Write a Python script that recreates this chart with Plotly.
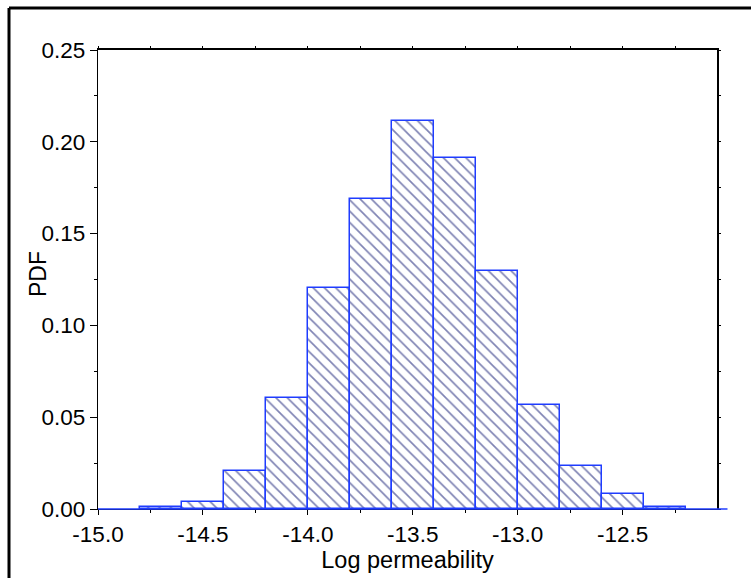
import plotly.graph_objects as go

# ---- data ----
bin_left = [-14.8, -14.6, -14.4, -14.2, -14.0, -13.8, -13.6, -13.4, -13.2, -13.0, -12.8, -12.6, -12.4]
bin_width = 0.2
pdf_vals = [0.001, 0.004, 0.0205, 0.0606, 0.1203, 0.169, 0.2116, 0.1914, 0.1295, 0.0568, 0.0234, 0.0082, 0.0012]

x_tickvals = [-15.0, -14.5, -14.0, -13.5, -13.0, -12.5]
x_ticktext = ["-15.0", "-14.5", "-14.0", "-13.5", "-13.0", "-12.5"]
y_tickvals = [0.0, 0.05, 0.10, 0.15, 0.20, 0.25]
y_ticktext = ["0.00", "0.05", "0.10", "0.15", "0.20", "0.25"]

x_range = [-15.0, -12.05]
y_range = [0.0, 0.25]

# ---- layout geometry (pixels) ----
W, H = 751, 578
ML, MR, MT, MB = 98, 34, 50, 69
PW, PH = W - ML - MR, H - MT - MB

def px_to_paper_x(px):
    return (px - ML) / PW

def px_to_paper_y(py):
    return (H - MB - py) / PH

centers = [l + bin_width / 2 for l in bin_left]

FONT = "Liberation Sans, Arial, sans-serif"
OUTLINE = "#1f3cff"
HATCH = "#000868"

fig = go.Figure()
fig.add_trace(go.Bar(
    x=centers, y=pdf_vals, width=[bin_width] * len(centers),
    marker=dict(
        color="white",
        line=dict(color=OUTLINE, width=1.5),
        pattern=dict(shape="\\", fgcolor=HATCH, bgcolor="white", size=8, solidity=0.21, fillmode="overlay"),
    ),
    showlegend=False, hoverinfo="skip",
))
# dummy trace for mirrored (top/right) axes
fig.add_trace(go.Scatter(x=[x_range[0]], y=[y_range[0]], xaxis="x2", yaxis="y2",
                         mode="markers", marker=dict(opacity=0), showlegend=False, hoverinfo="skip"))

minor_x = [v / 100 for v in range(-1500, -1200, 25)]
minor_y = [v / 1000 for v in range(0, 251, 25)]

fig.update_layout(
    width=W, height=H,
    margin=dict(l=ML, r=MR, t=MT, b=MB, pad=0),
    paper_bgcolor="white", plot_bgcolor="white",
    font=dict(family=FONT, size=22.5, color="black"),
    bargap=0,
    xaxis=dict(
        range=x_range, tickmode="array", tickvals=x_tickvals, ticktext=x_ticktext,
        ticks="outside", ticklen=5, tickwidth=1, tickcolor="black",
        minor=dict(tickmode="linear", tick0=-15.0, dtick=0.25, ticks="outside", ticklen=3, tickcolor="black"),
        showline=True, linecolor="black", linewidth=1.2, showgrid=False, zeroline=False,
        tickfont=dict(size=22.5),
        title=dict(text="Log permeability", font=dict(size=23.5), standoff=0),
    ),
    yaxis=dict(
        range=y_range, tickmode="array", tickvals=y_tickvals, ticktext=y_ticktext,
        ticks="outside", ticklen=7, tickwidth=1, tickcolor="black",
        minor=dict(tickmode="linear", tick0=0, dtick=0.025, ticks="outside", ticklen=3, tickcolor="black"),
        showline=True, linecolor="black", linewidth=1.2, showgrid=False, zeroline=False,
        tickfont=dict(size=22.5),
    ),
    xaxis2=dict(
        overlaying="x", side="top", range=x_range, tickmode="array", tickvals=minor_x,
        showticklabels=False, ticks="outside", ticklen=2, tickcolor="black",
        showline=True, linecolor="black", linewidth=2, showgrid=False, zeroline=False,
    ),
    yaxis2=dict(
        overlaying="y", side="right", range=y_range, tickmode="array", tickvals=minor_y,
        showticklabels=False, ticks="outside", ticklen=2, tickcolor="black",
        showline=True, linecolor="black", linewidth=2, showgrid=False, zeroline=False,
    ),
)

# y axis title placed as rotated text
fig.add_annotation(text="PDF", xref="paper", yref="paper",
                   x=px_to_paper_x(38), y=px_to_paper_y(274),
                   xanchor="center", yanchor="middle", textangle=-90,
                   showarrow=False, font=dict(size=23, family=FONT, color="black"))

# outer frame: only left and top edges are visible in the picture
frame_l, frame_t = px_to_paper_x(9), px_to_paper_y(8)
fig.add_shape(type="line", xref="paper", yref="paper",
              x0=frame_l, x1=frame_l, y0=px_to_paper_y(H + 20), y1=frame_t,
              line=dict(color="black", width=3), layer="above")
fig.add_shape(type="line", xref="paper", yref="paper",
              x0=frame_l, x1=px_to_paper_x(W + 20), y0=frame_t, y1=frame_t,
              line=dict(color="black", width=3), layer="above")

# blue baseline at y = 0, from axis start to one bin beyond the last bin
base_end = bin_left[-1] + 2 * bin_width
fig.add_shape(type="line", xref="paper", yref="paper",
              x0=0, x1=(base_end - x_range[0]) / (x_range[1] - x_range[0]),
              y0=0, y1=0, line=dict(color=OUTLINE, width=1.5), layer="above")

fig.write_html("out.html")
